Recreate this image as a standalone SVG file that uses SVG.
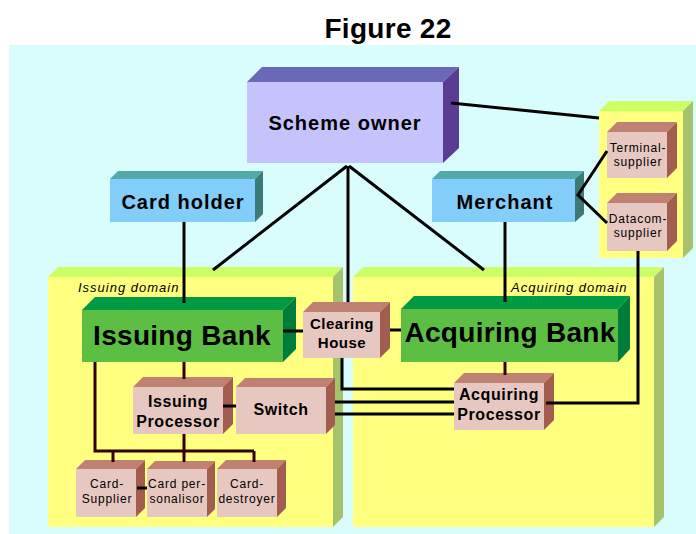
<svg xmlns="http://www.w3.org/2000/svg" width="696" height="534" viewBox="0 0 696 534">
  <style>
    text { font-family: "Liberation Sans", Arial, sans-serif; fill: #000; }
    .title { font-size: 28px; font-weight: bold; letter-spacing: 0.3px; }
    .big { font-size: 28px; font-weight: bold; letter-spacing: 0.3px; }
    .mid { font-size: 20px; font-weight: bold; letter-spacing: 1px; }
    .box { font-size: 16px; font-weight: bold; letter-spacing: 0.6px; }
    .ch { font-size: 15px; font-weight: bold; letter-spacing: 0.5px; }
    .small { font-size: 12px; letter-spacing: 0.8px; }
    .dom { font-size: 13px; font-style: italic; letter-spacing: 1px; }
    .c { text-anchor: middle; }
    .wire { fill: none; stroke: #000; stroke-width: 3; stroke-linejoin: miter; }
    .tree { fill: none; stroke: #330000; stroke-width: 3; }
    /* colour sets for the extruded boxes: front / top / side */
    .dom-f { fill: #ffff80; } .dom-t { fill: #ccff66; } .dom-s { fill: #a6c36c; }
    .pk-f { fill: #e7c8c0; } .pk-t { fill: #c08072; } .pk-s { fill: #a35c50; }
    .gr-f { fill: #5cbf44; } .gr-t { fill: #009944; } .gr-s { fill: #007d3a; }
    .bl-f { fill: #82cdf9; } .bl-t { fill: #52aaaa; } .bl-s { fill: #3b7a78; }
    .pu-f { fill: #c6c3fc; } .pu-t { fill: #6a68b8; } .pu-s { fill: #5a3d92; }
  </style>

  <!-- page -->
  <rect x="0" y="0" width="696" height="534" fill="#ffffff"/>
  <rect x="9" y="45" width="687" height="489" fill="#d9fdfd"/>
  <text class="title c" x="388" y="38">Figure 22</text>

  <!-- domains -->
  <g id="issuing-domain">
    <polygon class="dom-t" points="48,277 58,267 343,267 333,277"/>
    <polygon class="dom-s" points="333,277 343,267 343,517 333,527"/>
    <rect class="dom-f" x="48" y="277" width="285" height="250"/>
    <text class="dom" x="78" y="292">Issuing domain</text>
  </g>
  <g id="acquiring-domain">
    <polygon class="dom-t" points="353,277 363,267 664,267 654,277"/>
    <polygon class="dom-s" points="654,277 664,267 664,517 654,527"/>
    <rect class="dom-f" x="353" y="277" width="301" height="250"/>
    <text class="dom" x="511" y="292">Acquiring domain</text>
  </g>
  <g id="supplier-group">
    <polygon class="dom-t" points="599,111 609,101 693,101 683,111"/>
    <polygon class="dom-s" points="683,111 693,101 693,248 683,258"/>
    <rect class="dom-f" x="599" y="111" width="84" height="147"/>
  </g>

  <!-- nodes -->
  <g id="scheme-owner">
    <polygon class="pu-t" points="247,82 262,67 459,67 443,82"/>
    <polygon class="pu-s" points="443,82 459,67 459,148 443,163"/>
    <rect class="pu-f" x="247" y="82" width="196" height="81"/>
    <text class="mid c" x="345" y="130">Scheme owner</text>
  </g>
  <g id="card-holder">
    <polygon class="bl-t" points="110,179 118,171 263,171 255,179"/>
    <polygon class="bl-s" points="255,179 263,171 263,214 255,222"/>
    <rect class="bl-f" x="110" y="179" width="145" height="43"/>
    <text class="mid c" x="183" y="209">Card holder</text>
  </g>
  <g id="merchant">
    <polygon class="bl-t" points="432,179 440,171 584,171 575,179"/>
    <polygon class="bl-s" points="575,179 584,171 584,214 575,222"/>
    <rect class="bl-f" x="432" y="179" width="143" height="43"/>
    <text class="mid c" x="505" y="209">Merchant</text>
  </g>
  <g id="terminal-supplier">
    <polygon class="pk-t" points="607,132 617,122 677,122 667,132"/>
    <polygon class="pk-s" points="667,132 677,122 677,168 667,178"/>
    <rect class="pk-f" x="607" y="132" width="60" height="46"/>
    <text class="small c" x="638" y="152">Terminal-</text>
    <text class="small c" x="638" y="166">supplier</text>
  </g>
  <g id="datacom-supplier">
    <polygon class="pk-t" points="607,203 617,193 677,193 667,203"/>
    <polygon class="pk-s" points="667,203 677,193 677,241 667,251"/>
    <rect class="pk-f" x="607" y="203" width="60" height="48"/>
    <text class="small c" x="638" y="223">Datacom-</text>
    <text class="small c" x="638" y="237">supplier</text>
  </g>
  <g id="issuing-bank">
    <polygon class="gr-t" points="82,310 95,297 296,297 283,310"/>
    <polygon class="gr-s" points="283,310 296,297 296,349 283,362"/>
    <rect class="gr-f" x="82" y="310" width="201" height="52"/>
    <text class="big c" x="182" y="345">Issuing Bank</text>
  </g>
  <g id="clearing-house">
    <polygon class="pk-t" points="303,312 313,302 390,302 380,312"/>
    <polygon class="pk-s" points="380,312 390,302 390,348 380,358"/>
    <rect class="pk-f" x="303" y="312" width="77" height="46"/>
    <text class="ch c" x="342" y="329">Clearing</text>
    <text class="ch c" x="342" y="348">House</text>
  </g>
  <g id="acquiring-bank">
    <polygon class="gr-t" points="401,309 414,296 630,296 618,309"/>
    <polygon class="gr-s" points="618,309 630,296 630,349 618,362"/>
    <rect class="gr-f" x="401" y="309" width="217" height="53"/>
    <text class="big c" x="510" y="342">Acquiring Bank</text>
  </g>
  <g id="issuing-processor">
    <polygon class="pk-t" points="133,387 143,377 233,377 223,387"/>
    <polygon class="pk-s" points="223,387 233,377 233,424 223,434"/>
    <rect class="pk-f" x="133" y="387" width="90" height="47"/>
    <text class="box c" x="178" y="407">Issuing</text>
    <text class="box c" x="178" y="427">Processor</text>
  </g>
  <g id="switch">
    <polygon class="pk-t" points="236,387 245,378 335,378 326,387"/>
    <polygon class="pk-s" points="326,387 335,378 335,425 326,434"/>
    <rect class="pk-f" x="236" y="387" width="90" height="47"/>
    <text class="box c" x="281" y="415">Switch</text>
  </g>
  <g id="acquiring-processor">
    <polygon class="pk-t" points="454,383 464,373 554,373 544,383"/>
    <polygon class="pk-s" points="544,383 554,373 554,420 544,430"/>
    <rect class="pk-f" x="454" y="383" width="90" height="47"/>
    <text class="box c" x="499" y="400">Acquiring</text>
    <text class="box c" x="499" y="420">Processor</text>
  </g>
  <g id="card-supplier">
    <polygon class="pk-t" points="76,469 85,460 145,460 136,469"/>
    <polygon class="pk-s" points="136,469 145,460 145,508 136,517"/>
    <rect class="pk-f" x="76" y="469" width="60" height="48"/>
    <text class="small c" x="107" y="488">Card-</text>
    <text class="small c" x="107" y="503">Supplier</text>
  </g>
  <g id="card-personalisor">
    <polygon class="pk-t" points="147,469 155,461 215,461 207,469"/>
    <polygon class="pk-s" points="207,469 215,461 215,509 207,517"/>
    <rect class="pk-f" x="147" y="469" width="60" height="48"/>
    <text class="small c" x="177" y="488">Card per-</text>
    <text class="small c" x="177" y="503">sonalisor</text>
  </g>
  <g id="card-destroyer">
    <polygon class="pk-t" points="217,469 226,460 286,460 277,469"/>
    <polygon class="pk-s" points="277,469 286,460 286,508 277,517"/>
    <rect class="pk-f" x="217" y="469" width="60" height="48"/>
    <text class="small c" x="247" y="488">Card-</text>
    <text class="small c" x="247" y="503">destroyer</text>
  </g>

  <!-- connectors -->
  <g id="connectors">
    <path class="wire" d="M451,103 L599,118"/>
    <path class="wire" d="M347,166 L213,270"/>
    <path class="wire" d="M348,166 L348,302"/>
    <path class="wire" d="M349,166 L484,270"/>
    <path class="wire" d="M184,222 L184,303"/>
    <path class="wire" d="M505,222 L505,302"/>
    <path class="wire" d="M607,151 L578,195 L607,223"/>
    <path class="wire" d="M638,251 L638,403 L546,403"/>
    <path class="wire" d="M283,331 L303,331"/>
    <path class="wire" d="M390,330 L401,330"/>
    <path class="wire" d="M342,358 L342,389 L454,389"/>
    <path class="wire" d="M335,402 L454,402"/>
    <path class="wire" d="M335,414 L454,414"/>
    <path class="wire" d="M223,406 L236,406"/>
    <path class="wire" d="M137,488 L147,488"/>
    <path class="tree" d="M184,362 L184,379"/>
    <path class="tree" d="M505,362 L505,375"/>
    <path class="tree" d="M95,362 L95,451 L254,451"/>
    <path class="tree" d="M184,434 L184,462"/>
    <path class="tree" d="M113,451 L113,462"/>
    <path class="tree" d="M254,451 L254,462"/>
  </g>
</svg>
